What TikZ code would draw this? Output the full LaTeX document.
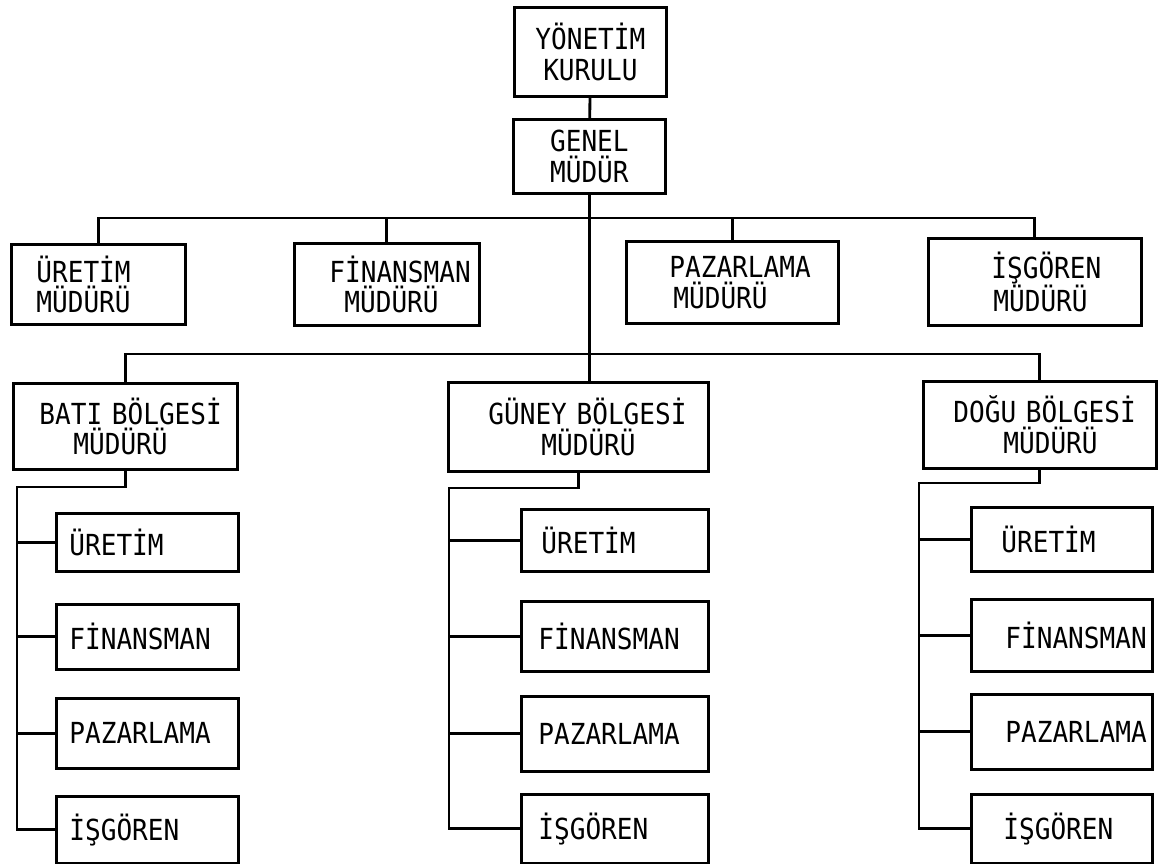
\documentclass[tikz,border=0pt]{standalone}
\usepackage{fontspec}
\usepackage{tikz}
\usetikzlibrary{calc}
\newfontfamily\chartfamily[FakeStretch=0.9]{DejaVu Sans Mono}

\tikzset{
  unit/.style={draw, line width=1.6pt, anchor=north west, inner xsep=0pt, inner ysep=0pt,
    align=left, font=\chartfamily\fontsize{16.5pt}{17.5pt}\selectfont},
  link/.style={line width=1.6pt},
}

\begin{document}
\begin{tikzpicture}[x=0.02cm, y=-0.02cm]

    % ==========================================
    % DEFINE PARAMETERS & COORDINATES
    % ==========================================

    \useasboundingbox (0,0) rectangle (1159,864);

    % Horizontal bus lines (in picture pixels)
    \coordinate (busA) at (0,218);
    \coordinate (busB) at (0,354);

    % Vertical spines of the three regions
    \coordinate (batiSpine)  at (17,487);
    \coordinate (guneySpine) at (449,488);
    \coordinate (doguSpine)  at (919,483);

    % ==========================================
    % DRAW BOXES
    % ==========================================

    % Top of the chart
    \node[unit, align=center, text width=3.04cm, minimum height=1.78cm] (kurul) at (513,6) {YÖNETİM\\KURULU};
    \node[unit, align=center, text width=3.04cm, minimum height=1.48cm] (genel) at (512,118) {GENEL\\MÜDÜR};

    % Functional managers
    \node[unit, text width=3.48cm, minimum height=1.6cm] (uretimM) at (10,243)
        {\hspace*{0.5cm}ÜRETİM\\\hspace*{0.5cm}MÜDÜRÜ};
    \node[unit, text width=3.7cm, minimum height=1.64cm] (finansmanM) at (293,242)
        {\hspace*{0.7cm}FİNANSMAN\\\hspace*{1.0cm}MÜDÜRÜ};
    \node[unit, text width=4.24cm, minimum height=1.64cm] (pazarlamaM) at (625,240)
        {\hspace*{0.86cm}PAZARLAMA\\\hspace*{0.94cm}MÜDÜRÜ};
    \node[unit, text width=4.26cm, minimum height=1.74cm] (isgorenM) at (927,237)
        {\hspace*{1.26cm}İŞGÖREN\\\hspace*{1.3cm}MÜDÜRÜ};

    % Regional managers
    \node[unit, text width=4.48cm, minimum height=1.72cm] (bati) at (12,382)
        {\hspace*{0.52cm}BATI BÖLGESİ\\\hspace*{1.2cm}MÜDÜRÜ};
    \node[unit, text width=5.2cm, minimum height=1.78cm] (guney) at (447,381)
        {\hspace*{0.8cm}GÜNEY BÖLGESİ\\\hspace*{1.86cm}MÜDÜRÜ};
    \node[unit, text width=4.66cm, minimum height=1.74cm] (dogu) at (922,380)
        {\hspace*{0.6cm}DOĞU BÖLGESİ\\\hspace*{1.6cm}MÜDÜRÜ};

    % West region units
    \node[unit, text width=3.64cm, minimum height=1.16cm] (batiUre) at (55,512) {\hspace*{0.26cm}ÜRETİM};
    \node[unit, text width=3.64cm, minimum height=1.3cm]  (batiFin) at (55,603) {\hspace*{0.26cm}FİNANSMAN};
    \node[unit, text width=3.64cm, minimum height=1.4cm]  (batiPaz) at (55,697) {\hspace*{0.26cm}PAZARLAMA};
    \node[unit, text width=3.64cm, minimum height=1.34cm] (batiIsg) at (55,795) {\hspace*{0.26cm}İŞGÖREN};

    % South region units
    \node[unit, text width=3.74cm, minimum height=1.24cm] (guneyUre) at (520,508) {\hspace*{0.4cm}ÜRETİM};
    \node[unit, text width=3.74cm, minimum height=1.4cm]  (guneyFin) at (520,600) {\hspace*{0.34cm}FİNANSMAN};
    \node[unit, text width=3.74cm, minimum height=1.5cm]  (guneyPaz) at (520,695) {\hspace*{0.34cm}PAZARLAMA};
    \node[unit, text width=3.74cm, minimum height=1.38cm] (guneyIsg) at (520,793) {\hspace*{0.34cm}İŞGÖREN};

    % East region units
    \node[unit, text width=3.62cm, minimum height=1.28cm] (doguUre) at (970,506) {\hspace*{0.6cm}ÜRETİM};
    \node[unit, text width=3.62cm, minimum height=1.44cm] (doguFin) at (970,598) {\hspace*{0.68cm}FİNANSMAN};
    \node[unit, text width=3.62cm, minimum height=1.5cm]  (doguPaz) at (970,693) {\hspace*{0.68cm}PAZARLAMA};
    \node[unit, text width=3.62cm, minimum height=1.38cm] (doguIsg) at (970,793) {\hspace*{0.64cm}İŞGÖREN};

    % ==========================================
    % DRAW CONNECTORS
    % ==========================================

    % Board to general manager, and the trunk down to the south region
    \draw[link] (kurul) -- (genel);
    \draw[link] (genel.south) -- (genel.south |- guney.north);

    % First bus: functional managers
    \draw[link] (uretimM.north) |- (busA -| isgorenM.north) -- (isgorenM.north);
    \draw[link] (finansmanM.north) -- (finansmanM.north |- busA);
    \draw[link] (pazarlamaM.north) -- (pazarlamaM.north |- busA);

    % Second bus: regional managers
    \draw[link] (bati.north) |- (busB -| dogu.north) -- (dogu.north);

    % Spines of each region with their units
    \foreach \r in {bati, guney, dogu} {
        \draw[link] (\r.south) |- (\r Spine) |- (\r Isg.west);
        \foreach \c in {Ure, Fin, Paz}
            \draw[link] (\r Spine |- \r\c.west) -- (\r\c.west);
    }

\end{tikzpicture}
\end{document}
